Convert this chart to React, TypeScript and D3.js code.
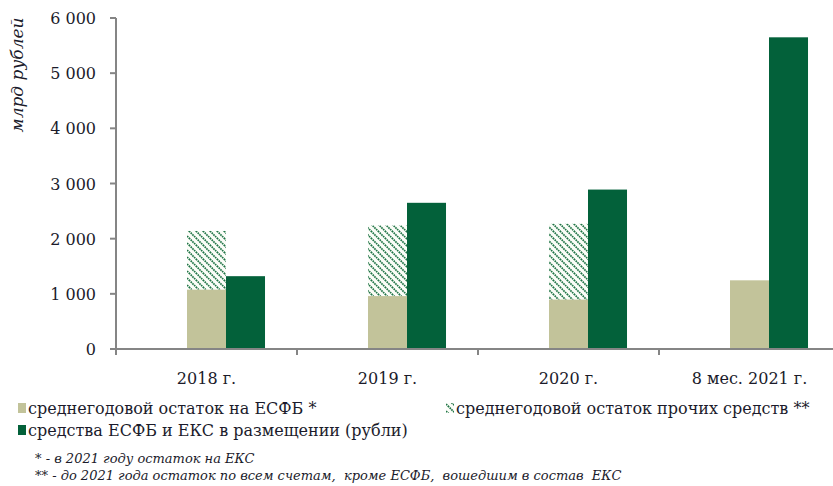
import React from "react";
import * as d3 from "d3";

const categories = ["2018 г.", "2019 г.", "2020 г.", "8 мес. 2021 г."];
const esfbAvg = [1080, 960, 900, 1245];
const otherAvg = [1060, 1280, 1370, 0];
const placed = [1320, 2650, 2890, 5650];
const yTicks = [0, 1000, 2000, 3000, 4000, 5000, 6000];

const legendItems = [
  { key: "esfb", label: "среднегодовой остаток на ЕСФБ *" },
  { key: "other", label: "среднегодовой остаток прочих средств **" },
  { key: "placed", label: "средства ЕСФБ и ЕКС в размещении (рубли)" },
];
const footnotes = [
  "* - в 2021 году остаток на ЕКС",
  "** - до 2021 года остаток по всем счетам,  кроме ЕСФБ,  вошедшим в состав  ЕКС",
];

const BEIGE = "#c2c39a";
const GREEN = "#03613a";
const AXIS = "#858585";
const TEXT = "#1b1b2b";
const FONT = "'DejaVu Serif', serif";

const App = () => {
  const W = 833;
  const H = 486;
  const left = 116;
  const right = 840;
  const top = 18;
  const bottom = 349;

  // Categories and the three slots inside each (first slot is empty)
  const xScale = d3.scaleBand<string>().domain(categories).range([left, right]).padding(0);
  const slot = d3
    .scaleBand<string>()
    .domain(["gap", "esfb", "placed"])
    .range([0, xScale.bandwidth()])
    .paddingOuter(0.82)
    .paddingInner(0);

  const yScale = d3.scaleLinear().domain([0, 6000]).range([bottom, top]);
  const fmt = (v: number) => d3.format(",")(v).replace(/,/g, " ");

  return (
    <svg width={W} height={H} viewBox={`0 0 ${W} ${H}`} style={{ display: "block", position: "absolute", left: 0, top: 0 }}>
      <defs>
        <pattern id="hatch" patternUnits="userSpaceOnUse" width={7} height={7}>
          <rect width={7} height={7} fill="#fbfdf8" />
          <path d="M0,0 L7,7 M-2,5 L2,9 M5,-2 L9,2" stroke="#1f7446" strokeWidth={1.7} strokeDasharray="1.6,0.8" />
        </pattern>
      </defs>
      <rect width={W} height={H} fill="#fff" />

      {/* Y-axis label */}
      <text
        transform="rotate(-90)"
        x={-75}
        y={23}
        textAnchor="middle"
        style={{ fontSize: "17px", fontStyle: "italic", fontFamily: FONT, fill: TEXT }}
      >
        млрд рублей
      </text>

      {/* Bars */}
      {categories.map((c, i) => {
        const x0 = xScale(c)!;
        const bw = slot.bandwidth();
        return (
          <g key={c}>
            <rect x={x0 + slot("esfb")!} y={yScale(esfbAvg[i])} width={bw} height={yScale(0) - yScale(esfbAvg[i])} fill={BEIGE} />
            {otherAvg[i] > 0 && (
              <rect
                x={x0 + slot("esfb")!}
                y={yScale(esfbAvg[i] + otherAvg[i])}
                width={bw}
                height={yScale(esfbAvg[i]) - yScale(esfbAvg[i] + otherAvg[i])}
                fill="url(#hatch)"
              />
            )}
            <rect x={x0 + slot("placed")!} y={yScale(placed[i])} width={bw} height={yScale(0) - yScale(placed[i])} fill={GREEN} />
          </g>
        );
      })}

      {/* Y-axis */}
      <g>
        {yTicks.map((t) => (
          <g key={t} transform={`translate(${left}, ${yScale(t)})`}>
            <line x1={-6} x2={0} stroke={AXIS} strokeWidth={2} />
            <text x={-20} y={6} textAnchor="end" style={{ fontSize: "16px", fontFamily: FONT, fill: TEXT }}>
              {fmt(t)}
            </text>
          </g>
        ))}
        <line x1={left} x2={left} y1={yScale(6000)} y2={bottom + 6} stroke={AXIS} strokeWidth={2} />
      </g>

      {/* X-axis */}
      <g>
        <line x1={left - 6} x2={right} y1={bottom} y2={bottom} stroke={AXIS} strokeWidth={2} />
        {categories.slice(1).map((c) => (
          <line key={c} x1={xScale(c)!} x2={xScale(c)!} y1={bottom} y2={bottom + 6} stroke={AXIS} strokeWidth={2} />
        ))}
        {categories.map((c) => (
          <text
            key={c}
            x={xScale(c)! + xScale.bandwidth() / 2}
            y={384}
            textAnchor="middle"
            style={{ fontSize: "16px", fontFamily: FONT, fill: TEXT }}
          >
            {c}
          </text>
        ))}
      </g>

      {/* Legend */}
      {legendItems.map((d, i) => {
        const lx = i === 1 ? 446 : 18;
        const ly = i === 2 ? 425 : 403;
        const fill = d.key === "esfb" ? BEIGE : d.key === "other" ? "url(#hatch)" : GREEN;
        return (
          <g key={d.key}>
            <rect x={lx} y={ly} width={8} height={10} fill={fill} />
            <text x={lx + 10} y={ly + 11} style={{ fontSize: "16px", fontFamily: FONT, fill: TEXT }}>
              {d.label}
            </text>
          </g>
        );
      })}

      {/* Footnotes */}
      {footnotes.map((f, i) => (
        <text
          key={i}
          x={35}
          y={463 + i * 17}
          style={{ fontSize: "13px", fontStyle: "italic", fontFamily: FONT, fill: TEXT, whiteSpace: "pre" }}
        >
          {f}
        </text>
      ))}
    </svg>
  );
};

export default App;
